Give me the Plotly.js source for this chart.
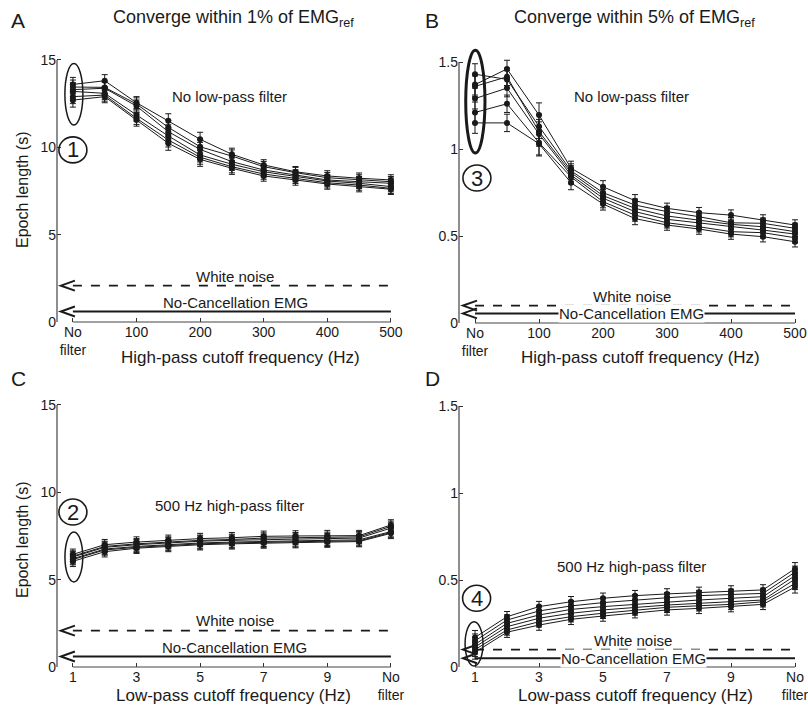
<!DOCTYPE html>
<html><head><meta charset="utf-8">
<script src="https://cdn.plot.ly/plotly-3.0.1.min.js"></script>
<style>body{margin:0;background:#fff}#chart{width:808px;height:715px}</style>
</head><body><div id="chart"></div><script>
// ---------- data ----------
const hpCutoff = [0,50,100,150,200,250,300,350,400,450,500];   // 0 = "No filter"
const lpCutoff = [1,2,3,4,5,6,7,8,9,10,11];                     // 11 = "No filter"
const hpTickVals = [0,100,200,300,400,500];
const hpTickText = ['No<br>filter','100','200','300','400','500'];
const lpTickVals = [1,3,5,7,9,11];
const lpTickText = ['1','3','5','7','9','No<br>filter'];
const yTicks1pct = [0,5,10,15];
const yTicks5pct = [0,0.5,1,1.5];
const yTicks5pctText = ['0','0.5','1','1.5'];

const panelA = [
 [13.6,13.81,12.55,11.52,10.46,9.6,8.99,8.6,8.36,8.23,8.13],
 [13.45,13.43,12.48,11.14,10.03,9.5,8.89,8.55,8.26,8.13,8.03],
 [13.3,13.38,12.36,10.89,9.88,9.18,8.7,8.41,8.13,8.03,7.94],
 [13.2,13.09,11.85,10.65,9.56,9.03,8.6,8.32,8.07,7.94,7.75],
 [12.9,12.99,11.66,10.42,9.43,8.89,8.47,8.23,7.97,7.84,7.65],
 [12.7,12.9,11.56,10.23,9.31,8.8,8.36,8.13,7.9,7.75,7.6]
];
const errA = [0.4,0.35,0.35,0.4,0.4,0.35,0.3,0.3,0.3,0.3,0.3];

const panelB = [
 [1.43,1.40,1.13,0.875,0.749,0.678,0.64,0.611,0.576,0.573,0.544],
 [1.37,1.46,1.195,0.89,0.783,0.703,0.659,0.634,0.62,0.592,0.563],
 [1.36,1.415,1.10,0.864,0.732,0.659,0.615,0.592,0.567,0.553,0.525],
 [1.29,1.35,1.086,0.85,0.717,0.64,0.596,0.576,0.553,0.534,0.511],
 [1.21,1.26,1.036,0.84,0.697,0.62,0.576,0.553,0.525,0.519,0.49],
 [1.15,1.15,1.03,0.806,0.684,0.60,0.563,0.54,0.511,0.496,0.467]
];
const errB = [0.06,0.05,0.07,0.04,0.035,0.035,0.03,0.03,0.03,0.03,0.03];

const panelC = [
 [6.45,7.0,7.15,7.25,7.35,7.4,7.48,7.5,7.52,7.52,8.13],
 [6.35,6.9,7.05,7.15,7.25,7.3,7.38,7.4,7.42,7.45,8.05],
 [6.3,6.85,7.0,7.1,7.2,7.25,7.3,7.32,7.35,7.38,7.95],
 [6.2,6.75,6.9,7.0,7.1,7.15,7.2,7.22,7.25,7.28,7.75],
 [6.15,6.7,6.85,6.95,7.05,7.1,7.15,7.17,7.2,7.22,7.7],
 [6.05,6.6,6.8,6.9,7.0,7.05,7.1,7.12,7.15,7.18,7.65]
];
const errC = [0.3,0.3,0.3,0.3,0.3,0.3,0.3,0.3,0.3,0.3,0.3];

const panelD = [
 [0.17,0.289,0.347,0.375,0.395,0.41,0.42,0.429,0.437,0.443,0.565],
 [0.15,0.27,0.322,0.351,0.37,0.385,0.398,0.41,0.418,0.423,0.545],
 [0.13,0.251,0.299,0.331,0.347,0.36,0.375,0.385,0.395,0.404,0.525],
 [0.115,0.232,0.28,0.309,0.328,0.343,0.356,0.366,0.376,0.385,0.505],
 [0.1,0.213,0.26,0.289,0.309,0.328,0.343,0.352,0.36,0.375,0.48],
 [0.085,0.2,0.241,0.274,0.293,0.312,0.328,0.337,0.347,0.36,0.46]
];
const errD = [0.04,0.03,0.03,0.03,0.03,0.03,0.03,0.03,0.03,0.03,0.035];

const whiteNoiseLevel = [2.08, 0.10, 2.08, 0.10];
const noCancelLevel   = [0.6, 0.055, 0.6, 0.05];

// ---------- layout helpers ----------
const W = 808, H = 715;
const FONT = '"Liberation Sans", Arial, sans-serif';
const INK = '#1a1a1a';

const panels = [
  {id:'', x:hpCutoff, rows:panelA, err:errA, xr:[-25,510], yr:[0,15.6], x0px:57, xs:0.636, y0px:322, ys:17.47,
   xtv:hpTickVals, xtt:hpTickText, ytv:yTicks1pct, ytt:['0','5','10','15'], yTop:15, xFirst:0, xLast:500},
  {id:'2', x:hpCutoff, rows:panelB, err:errB, xr:[-25,510], yr:[0,1.6], x0px:459, xs:0.64, y0px:323, ys:174,
   xtv:hpTickVals, xtt:hpTickText, ytv:yTicks5pct, ytt:yTicks5pctText, yTop:1.5, xFirst:0, xLast:500},
  {id:'3', x:lpCutoff, rows:panelC, err:errC, xr:[0.5,11.3], yr:[0,15.6], x0px:57, xs:31.8, y0px:667, ys:17.47,
   xtv:lpTickVals, xtt:lpTickText, ytv:yTicks1pct, ytt:['0','5','10','15'], yTop:15, xFirst:1, xLast:11},
  {id:'4', x:lpCutoff, rows:panelD, err:errD, xr:[0.5,11.3], yr:[0,1.6], x0px:459, xs:32, y0px:667, ys:174,
   xtv:lpTickVals, xtt:lpTickText, ytv:yTicks5pct, ytt:yTicks5pctText, yTop:1.5, xFirst:1, xLast:11}
];

const data = [];
const layout = {
  width: W, height: H, margin:{l:0,r:0,t:0,b:0},
  paper_bgcolor:'#fff', plot_bgcolor:'rgba(0,0,0,0)',
  showlegend:false, font:{family:FONT, color:INK, size:14},
  shapes:[], annotations:[]
};

panels.forEach((p, i) => {
  const xa = 'x'+p.id, ya = 'y'+p.id;
  const xLeft = p.x0px, xRight = p.x0px + (p.xr[1]-p.xr[0])*p.xs;
  const yBot = p.y0px, yTopPx = p.y0px - (p.yr[1]-p.yr[0])*p.ys;
  layout['xaxis'+p.id] = {
    domain:[xLeft/W, xRight/W], range:p.xr, anchor:ya,
    tickvals:p.xtv, ticktext:p.xtt, ticks:'inside', ticklen:4, tickcolor:'#333', tickwidth:1,
    ticklabeloverflow:'allow',
    showline:false, zeroline:false, showgrid:false, tickfont:{size:14, family:FONT, color:INK}, fixedrange:true
  };
  layout['yaxis'+p.id] = {
    domain:[1-yBot/H, 1-yTopPx/H], range:p.yr, anchor:xa,
    tickvals:p.ytv, ticktext:p.ytt, ticks:'inside', ticklen:4, tickcolor:'#333', tickwidth:1,
    ticklabeloverflow:'allow',
    showline:false, zeroline:false, showgrid:false, tickfont:{size:14, family:FONT, color:INK}, fixedrange:true
  };
  // axis lines
  const xfrac = v => (v - p.xr[0])/(p.xr[1]-p.xr[0]);
  const yfrac = v => (v - p.yr[0])/(p.yr[1]-p.yr[0]);
  layout.shapes.push({type:'line', xref:xa+' domain', yref:ya+' domain', x0:0, x1:0, y0:0, y1:yfrac(p.yTop), line:{color:'#444', width:1.2}});
  layout.shapes.push({type:'line', xref:xa+' domain', yref:ya+' domain', x0:xfrac(p.xFirst), x1:xfrac(p.xLast), y0:0, y1:0, line:{color:'#444', width:1.2}});

  // reference lines
  layout.shapes.push({type:'line', xref:xa, yref:ya, x0:p.xFirst, x1:p.xLast, y0:whiteNoiseLevel[i], y1:whiteNoiseLevel[i], line:{color:INK, width:1.6, dash:'dash'}});
  layout.shapes.push({type:'line', xref:xa, yref:ya, x0:p.xFirst, x1:p.xLast, y0:noCancelLevel[i], y1:noCancelLevel[i], line:{color:INK, width:2}});
  [whiteNoiseLevel[i], noCancelLevel[i]].forEach(lv => {
    layout.shapes.push({type:'path', xref:xa, yref:ya, xsizemode:'pixel', ysizemode:'pixel', xanchor:p.xFirst, yanchor:lv,
      path:'M 2 5 L -12 0 L 2 -5', line:{color:INK, width:2}});
  });

  // series
  p.rows.forEach(row => {
    data.push({type:'scatter', mode:'lines+markers', x:p.x, y:row, xaxis:xa, yaxis:ya, cliponaxis:false,
      line:{color:INK, width:1}, marker:{color:INK, size:6, symbol:'circle'},
      error_y:{type:'data', array:p.err, visible:true, color:INK, thickness:1, width:3}, hoverinfo:'skip'});
  });
});

// ellipses
const ell = [
  ['x','y',-12.6,15.7,11.28,14.8,1.5],
  ['x2','y2',-14.5,15.6,0.977,1.568,3],
  ['x3','y3',0.75,1.31,4.87,7.73,1.5],
  ['x4','y4',0.69,1.25,0.006,0.26,1.5]
];
ell.forEach(e => layout.shapes.push({type:'circle', xref:e[0], yref:e[1], x0:e[2], x1:e[3], y0:e[4], y1:e[5], line:{color:INK, width:e[6]}}));

// circled numbers
const circ = [['x','y',0,9.85,'1'],['x2','y2',3,0.833,'3'],['x3','y3',1,8.87,'2'],['x4','y4',1.05,0.395,'4']];
circ.forEach(c => {
  layout.shapes.push({type:'circle', xref:c[0], yref:c[1], xsizemode:'pixel', ysizemode:'pixel', xanchor:c[2], yanchor:c[3],
    x0:-14, x1:14, y0:-13, y1:13, line:{color:INK, width:1.6}});
  layout.annotations.push({xref:c[0], yref:c[1], x:c[2], y:c[3], text:c[4], showarrow:false, font:{size:22, family:FONT, color:INK}, xanchor:'center', yanchor:'middle'});
});

// in-plot labels
const lbl = [
  ['x','y',247,12.9,'No low-pass filter',null],
  ['x2','y2',245,1.30,'No low-pass filter',null],
  ['x3','y3',5.94,9.27,'500 Hz high-pass filter',null],
  ['x4','y4',5.9,0.58,'500 Hz high-pass filter',null],
  ['x','y',255,2.58,'White noise',null],
  ['x','y',255,1.14,'No-Cancellation EMG',null],
  ['x2','y2',245,0.155,'White noise',null],
  ['x2','y2',245,noCancelLevel[1],'No-Cancellation EMG','#fff'],
  ['x3','y3',6.09,2.69,'White noise',null],
  ['x3','y3',6.09,1.14,'No-Cancellation EMG',null],
  ['x4','y4',5.94,0.15,'White noise',null],
  ['x4','y4',5.94,noCancelLevel[3],'No-Cancellation EMG','#fff']
];
lbl.forEach(l => layout.annotations.push({xref:l[0], yref:l[1], x:l[2], y:l[3], text:l[4], showarrow:false,
  font:{size:15, family:FONT, color:INK}, xanchor:'center', yanchor:'middle', bgcolor:l[5]||'rgba(0,0,0,0)', borderpad:0}));

// paper-level texts (pixel positions)
const pt = (x,y,text,size,extra) => layout.annotations.push(Object.assign({xref:'paper', yref:'paper', x:x/W, y:1-y/H, text:text,
  showarrow:false, xanchor:'center', yanchor:'middle', font:{size:size, family:FONT, color:INK}}, extra||{}));
pt(18,20,'A',21); pt(432,20,'B',21); pt(18,378,'C',21); pt(432,378,'D',21);
pt(234,19,'Converge within 1% of EMG<sub>ref</sub>',18);
pt(634,19,'Converge within 5% of EMG<sub>ref</sub>',18);
pt(240,357,'High-pass cutoff frequency (Hz)',17);
pt(640,357,'High-pass cutoff frequency (Hz)',17);
pt(234,695,'Low-pass cutoff frequency (Hz)',17);
pt(635,695,'Low-pass cutoff frequency (Hz)',17);
pt(22,190,'Epoch length (s)',16,{textangle:-90});
pt(22,540,'Epoch length (s)',16,{textangle:-90});

Plotly.newPlot('chart', data, layout, {staticPlot:true, displayModeBar:false});
</script></body></html>
